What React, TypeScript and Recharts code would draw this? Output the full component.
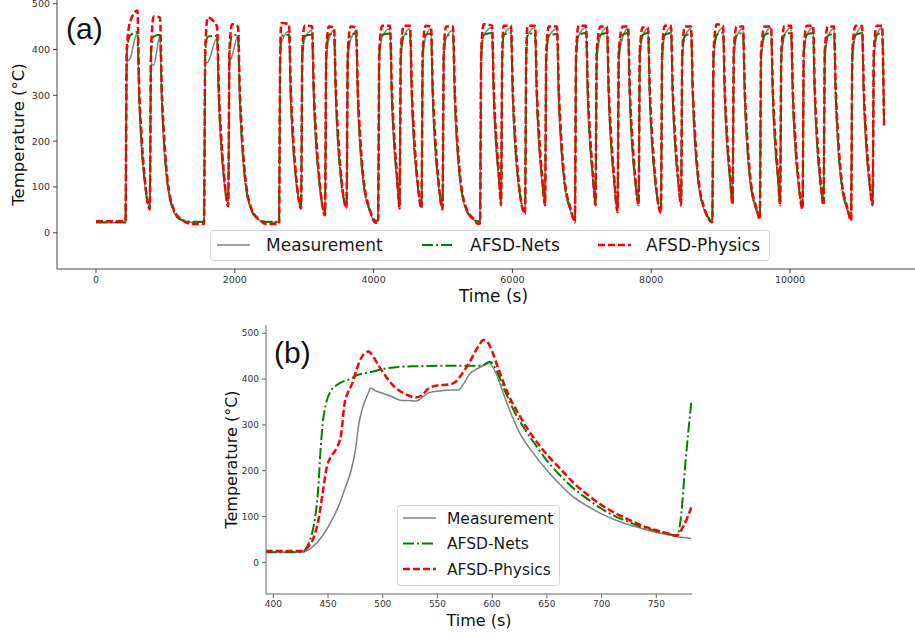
import { Line, LineChart, XAxis, YAxis } from "recharts";

const GRAY = "#808080";
const GREEN = "#008000";
const RED = "#ff0000";
const FONT = "'DejaVu Sans', sans-serif";

const seriesNames = ["Measurement", "AFSD-Nets", "AFSD-Physics"];
const tempTicks = [0, 100, 200, 300, 400, 500];
const topTimeTicks = [0, 2000, 4000, 6000, 8000, 10000];
const zoomTimeTicks = [400, 450, 500, 550, 600, 650, 700, 750];

// panel (a): one entry per heating cycle (s, °C)
const riseTimes = [425, 775, 1556, 1905, 2637, 2955, 3300, 3610, 4064, 4374, 4690, 4993, 5533, 5836, 6182, 6470, 6900, 7197, 7515, 7818, 8140, 8430, 8880, 9172, 9565, 9857, 10180, 10483, 10880, 11190];
const plateauTimes = [490, 830, 1610, 1960, 2670, 3005, 3355, 3670, 4125, 4435, 4750, 5045, 5585, 5875, 6220, 6525, 6955, 7270, 7590, 7875, 8195, 8485, 8945, 9230, 9635, 9920, 10240, 10545, 10945, 11250];
const fallTimes = [597, 922, 1744, 2046, 2781, 3113, 3430, 3747, 4237, 4525, 4827, 5144, 5706, 5980, 6326, 6643, 7061, 7363, 7666, 7954, 8285, 8574, 9035, 9323, 9727, 10015, 10332, 10634, 11038, 11326];
const minTimes = [775, 1400, 1905, 2450, 2955, 3300, 3610, 4030, 4374, 4690, 4993, 5500, 5836, 6182, 6470, 6900, 7197, 7515, 7818, 8140, 8430, 8880, 9172, 9565, 9857, 10180, 10483, 10880, 11190, 11355];
const minTemps = [55, 23, 62, 23, 57, 42, 57, 26, 57, 57, 55, 24, 64, 45, 64, 27, 64, 49, 64, 47, 64, 27, 66, 33, 64, 55, 64, 30, 64, 235];

const measPlateau = [380, 365, 372, 385, 415, 422, 422, 422, 428, 428, 428, 425, 430, 430, 430, 428, 430, 430, 428, 428, 430, 428, 430, 428, 430, 430, 430, 428, 430, 430];
const measPeak = [437, 430, 425, 430, 440, 442, 442, 440, 445, 445, 445, 442, 448, 448, 448, 445, 448, 448, 446, 446, 448, 446, 448, 446, 448, 448, 448, 446, 448, 448];
const netsPlateau = [430, 428, 428, 430, 430, 430, 432, 432, 432, 432, 432, 430, 432, 432, 432, 430, 432, 432, 432, 432, 432, 430, 432, 432, 432, 432, 432, 430, 432, 432];
const netsPeak = [438, 432, 430, 432, 432, 432, 435, 435, 435, 435, 435, 432, 436, 436, 436, 434, 436, 436, 436, 436, 436, 434, 436, 436, 436, 436, 436, 434, 436, 436];
const physPlateau = [460, 472, 470, 455, 458, 452, 450, 450, 452, 452, 452, 450, 455, 452, 452, 450, 452, 450, 450, 448, 452, 450, 455, 450, 450, 452, 452, 450, 452, 452];
const physPeak = [485, 470, 450, 450, 455, 450, 448, 448, 452, 452, 450, 450, 452, 452, 452, 450, 452, 450, 450, 448, 452, 450, 452, 450, 450, 452, 452, 450, 452, 452];

// cooling readings after the tool lifts (seconds after the fall, °C), from panel (b)
const coolOffsets = [25, 55, 100, 200, 300];
const measCool = [285, 190, 112, 45, 28];
const netsCool = [300, 205, 120, 48, 29];
const physCool = [315, 222, 128, 50, 30];

// panel (b): first cycle, [time s, temp °C]
const measZoom: [number, number][] = [
  [393, 22], [426, 22], [435, 32], [445, 58], [453, 90], [460, 125], [466, 165], [471, 200], [475, 245],
  [478, 300], [482, 340], [486, 365], [489, 380], [494, 374], [500, 369], [508, 362], [516, 354], [524, 353],
  [531, 352], [537, 362], [543, 371], [552, 374], [562, 376], [569, 376], [574, 390], [579, 410], [586, 422],
  [592, 430], [596, 437], [604, 410], [610, 370], [616, 332], [625, 283], [637, 240], [650, 201], [662, 170],
  [674, 143], [687, 123], [699, 107], [712, 93], [725, 82], [737, 74], [747, 67], [760, 61], [770, 56], [782, 52],
];
const netsZoom: [number, number][] = [
  [393, 22], [426, 22], [431, 35], [435, 60], [438, 95], [441, 160], [443, 240], [445, 300], [448, 345],
  [452, 372], [458, 387], [465, 396], [470, 400], [476, 408], [484, 413], [492, 417], [500, 422], [512, 426],
  [530, 428], [560, 429], [590, 429], [595, 434], [598, 438], [604, 418], [612, 372], [620, 330], [630, 290],
  [640, 255], [650, 222], [662, 190], [675, 160], [688, 137], [700, 117], [712, 101], [725, 88], [737, 77],
  [750, 69], [760, 63], [769, 59], [773, 110], [776, 200], [779, 280], [782, 350],
];
const physZoom: [number, number][] = [
  [393, 25], [426, 25], [432, 35], [437, 55], [441, 90], [445, 150], [449, 210], [453, 232], [458, 250],
  [462, 280], [465, 345], [468, 370], [472, 390], [476, 420], [480, 445], [484, 457], [487, 460], [491, 450],
  [496, 430], [503, 405], [512, 380], [520, 368], [530, 360], [536, 365], [542, 380], [550, 386], [560, 388],
  [566, 393], [572, 410], [580, 440], [587, 470], [592, 485], [596, 480], [600, 460], [606, 420], [615, 365],
  [625, 320], [637, 275], [650, 235], [662, 205], [675, 172], [688, 146], [700, 125], [712, 108], [725, 93],
  [737, 80], [750, 70], [760, 63], [768, 58], [775, 80], [782, 120],
];

type Pt = { t: number; v: number };

// string the per-cycle readings together into one trace
function buildCycles(
  start: number,
  riseTemp: number,
  plateau: number[],
  peak: number[],
  cool: number[],
  minShift: number
): Pt[] {
  const pts: Pt[] = [{ t: 0, v: start }];
  let last = start;
  let lastT = 0;
  riseTimes.forEach((rise, i) => {
    if (rise - lastT > 5) pts.push({ t: rise, v: last });
    pts.push({ t: rise + 18, v: riseTemp });
    pts.push({ t: plateauTimes[i], v: plateau[i] });
    pts.push({ t: fallTimes[i], v: peak[i] });
    coolOffsets.forEach((dt, j) => {
      if (fallTimes[i] + dt < minTimes[i] - 10 && cool[j] > minTemps[i]) {
        pts.push({ t: fallTimes[i] + dt, v: cool[j] });
      }
    });
    last = minTemps[i] + minShift;
    lastT = minTimes[i];
    pts.push({ t: lastT, v: last });
  });
  return pts;
}

const toPts = (rows: [number, number][]): Pt[] => rows.map(([t, v]) => ({ t, v }));

const topMeas = buildCycles(22, 370, measPlateau, measPeak, measCool, 0);
const topNets = buildCycles(23, 392, netsPlateau, netsPeak, netsCool, 1);
const topPhys = buildCycles(25, 398, physPlateau, physPeak, physCool, -4);

const lineStyles = [
  { color: GRAY, width: 1.5, dash: undefined as string | undefined },
  { color: GREEN, width: 2, dash: "11 3 2 3" },
  { color: RED, width: 2.5, dash: "7 3" },
];

function Swatch({ x, y, i }: { x: number; y: number; i: number }) {
  const s = lineStyles[i];
  return <line x1={x} x2={x + 33} y1={y} y2={y} stroke={s.color} strokeWidth={s.width} strokeDasharray={s.dash} />;
}

function Overlay() {
  const topItems = [217, 422, 598];
  const topText = [266, 470, 646];
  const rows = [518, 543.5, 569];
  return (
    <svg width={915} height={638} style={{ position: "absolute", left: 0, top: 0, pointerEvents: "none" }}>
      <text x={66} y={39} fontSize={30} fontFamily="'Liberation Sans', Arial, sans-serif" fill="#111">(a)</text>
      <text x={274} y={363} fontSize={30} fontFamily="'Liberation Sans', Arial, sans-serif" fill="#111">(b)</text>

      <rect x={210.5} y={230.5} width={559} height={30} rx={3} fill="#fff" fillOpacity={0.85} stroke="#d6d6d6" />
      {seriesNames.map((name, i) => (
        <g key={name}>
          <Swatch x={topItems[i]} y={245} i={i} />
          <text x={topText[i]} y={251} fontSize={17} fontFamily={FONT} fill="#1a1a1a">{name}</text>
        </g>
      ))}

      <rect x={397.5} y={505.5} width={162} height={80} rx={3} fill="#fff" fillOpacity={0.85} stroke="#d6d6d6" />
      {seriesNames.map((name, i) => (
        <g key={name}>
          <Swatch x={403} y={rows[i]} i={i} />
          <text x={447} y={rows[i] + 5.5} fontSize={15.5} fontFamily={FONT} fill="#1a1a1a">{name}</text>
        </g>
      ))}
    </svg>
  );
}

export default function App() {
  const axisStroke = { stroke: "#444" };
  return (
    <div
      style={{
        position: "absolute",
        left: 0,
        top: 0,
        width: 915,
        height: 638,
        overflow: "hidden",
        background: "#fff",
        fontFamily: FONT,
      }}
    >
      <div style={{ position: "absolute", left: 0, top: 0 }}>
        <LineChart width={930} height={310} margin={{ top: 0, right: 0, bottom: 0, left: 0 }}>
          <XAxis xAxisId="top" orientation="top" type="number" domain={[0, 1]} height={0} tick={false} tickLine={false} axisLine={{ stroke: "#d0d0d0" }} />
          <XAxis
            type="number"
            dataKey="t"
            domain={[-562, 12017]}
            allowDataOverflow
            ticks={topTimeTicks}
            interval={0}
            height={41}
            tickSize={4}
            tickMargin={3}
            tick={{ fontSize: 9.5, fill: "#333" }}
            tickLine={axisStroke}
            axisLine={axisStroke}
            label={{ value: "Time (s)", position: "insideBottom", offset: 8, fontSize: 17, fill: "#111" }}
          />
          <YAxis
            type="number"
            domain={[-79, 508]}
            allowDataOverflow
            ticks={tempTicks}
            interval={0}
            width={57}
            tickSize={4}
            tickMargin={3}
            tick={{ fontSize: 9.5, fill: "#333" }}
            tickLine={axisStroke}
            axisLine={axisStroke}
            label={{ value: "Temperature (°C)", angle: -90, position: "insideLeft", offset: 18, fontSize: 16.5, fill: "#111", style: { textAnchor: "middle" } }}
          />
          {[topMeas, topNets, topPhys].map((d, i) => (
            <Line
              key={seriesNames[i]}
              data={d}
              dataKey="v"
              name={seriesNames[i]}
              type="monotone"
              stroke={lineStyles[i].color}
              strokeWidth={lineStyles[i].width}
              strokeDasharray={lineStyles[i].dash}
              dot={false}
              activeDot={false}
              isAnimationActive={false}
            />
          ))}
        </LineChart>
      </div>

      <div style={{ position: "absolute", left: 200, top: 300 }}>
        <LineChart width={500} height={338} margin={{ top: 25, right: 8, bottom: 0, left: 0 }}>
          <XAxis xAxisId="top" orientation="top" type="number" domain={[0, 1]} height={0} tick={false} tickLine={false} axisLine={{ stroke: "#666" }} />
          <YAxis yAxisId="right" orientation="right" type="number" domain={[0, 1]} width={0} tick={false} tickLine={false} axisLine={{ stroke: "#666" }} />
          <XAxis
            type="number"
            dataKey="t"
            domain={[393.3, 782.6]}
            allowDataOverflow
            ticks={zoomTimeTicks}
            interval={0}
            height={44}
            tickSize={4}
            tickMargin={3}
            tick={{ fontSize: 9, fill: "#333" }}
            tickLine={{ stroke: "#666" }}
            axisLine={{ stroke: "#666" }}
            label={{ value: "Time (s)", position: "insideBottom", offset: 12, fontSize: 16, fill: "#111" }}
          />
          <YAxis
            type="number"
            domain={[-69, 518]}
            allowDataOverflow
            ticks={tempTicks}
            interval={0}
            width={66}
            tickSize={4}
            tickMargin={3}
            tick={{ fontSize: 9, fill: "#333" }}
            tickLine={{ stroke: "#666" }}
            axisLine={{ stroke: "#666" }}
            label={{ value: "Temperature (°C)", angle: -90, position: "insideLeft", offset: 31, fontSize: 16, fill: "#111", style: { textAnchor: "middle" } }}
          />
          {[measZoom, netsZoom, physZoom].map((rows, i) => (
            <Line
              key={seriesNames[i]}
              data={toPts(rows)}
              dataKey="v"
              name={seriesNames[i]}
              type="monotone"
              stroke={lineStyles[i].color}
              strokeWidth={lineStyles[i].width}
              strokeDasharray={lineStyles[i].dash}
              dot={false}
              activeDot={false}
              isAnimationActive={false}
            />
          ))}
        </LineChart>
      </div>

      <Overlay />
    </div>
  );
}
